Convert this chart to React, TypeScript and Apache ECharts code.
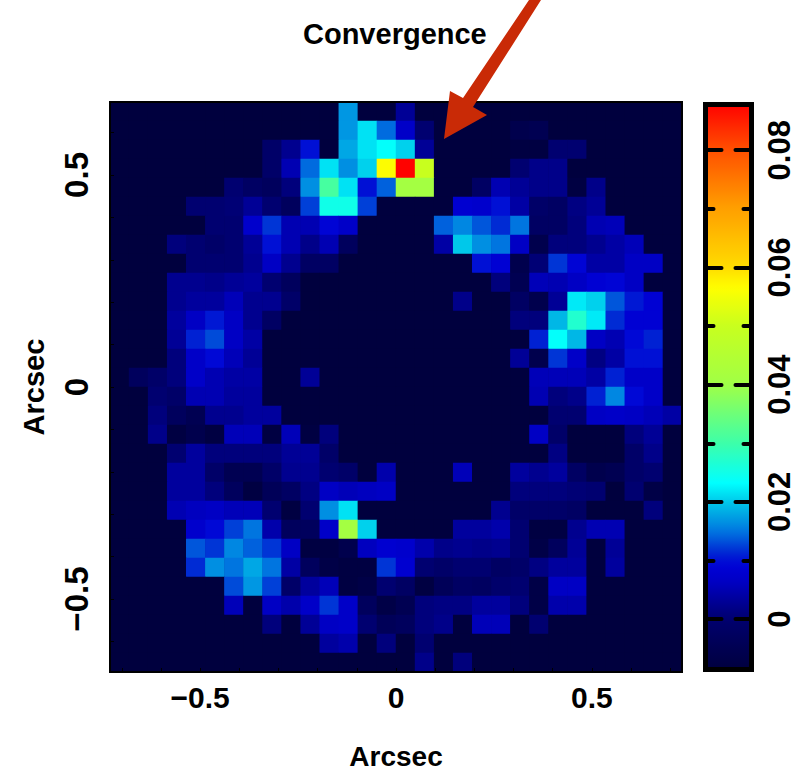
import React, { useEffect, useRef } from "react";
import * as echarts from "echarts";

const _ = -9; // background level, in thousandths
// Convergence in thousandths, one row per map row from the top; 30 columns.
const row00 = [_,_,_,_,_,_,_,_,_,_,_,_,17,_,_,3,_,_,_,_,_,_,_,_,_,_,_,_,_,_];
const row01 = [_,_,_,_,_,_,_,_,_,_,_,_,17,21.5,14.5,7,0,_,_,_,_,-6,-5,_,_,_,_,_,_,_];
const row02 = [_,_,_,_,_,_,_,_,-1,2.5,10,_,18,21.5,23.5,20.5,3,_,_,_,_,-8,-8,0,0,_,_,_,_,_];
const row03 = [_,_,_,_,_,_,_,_,-1,5,14.5,21.5,16.5,20.5,56.5,88,50,_,_,_,_,0,2,2,_,_,_,_,_,_];
const row04 = [_,_,_,_,_,_,0,-2,-3,1,16.5,31,21.5,10,14,41,41,_,_,-2,5,3,2,2,-8,2,_,_,_,_];
const row05 = [_,_,_,_,0,0,0.5,3,0,-3,12.5,25,25,12.5,_,_,_,_,8,7.5,10,4,-1,-2,1.5,3,_,_,_,_];
const row06 = [_,_,_,_,_,0,0,7.5,12,5,5,9,7,_,_,_,_,14,16,13.5,11.5,15,-2,-2,1,5,5.5,_,_,_];
const row07 = [_,_,_,1,0,-1,0,3,10,5,2,5,-3,_,_,_,_,4,20,16.5,15,6.5,-6,1,1,2.5,4,5.5,_,_];
const row08 = [_,_,_,_,0,0,0,2.5,6.5,2.5,-2,-2,_,_,_,_,_,_,_,10,8.5,-6,0.5,12,9,4,4,6.5,6.5,_];
const row09 = [_,_,_,2.5,2.5,2,3,3.5,0,-3,_,_,_,_,_,_,_,_,_,_,1,-5,5.5,5,6.5,8.5,9,6.5,_,_];
const row10 = [_,_,_,2.5,3.5,3.5,5.5,2.5,2.5,-1,_,_,_,_,_,_,_,_,2,_,_,-2,-6,3,22,20.5,13.5,10.5,8.5,_];
const row11 = [_,_,_,3.5,6.5,10.5,6.5,2.5,-2,_,_,_,_,_,_,_,_,_,_,_,_,1,1,19,27,22,11.5,8.5,8.5,_];
const row12 = [_,_,_,3,11,13,6.5,4,_,_,_,_,_,_,_,_,_,_,_,_,_,_,11,23.5,19,6.5,5,9.5,11,_];
const row13 = [_,_,_,1,7,9.5,5.5,3,_,_,_,_,_,_,_,_,_,_,_,_,_,3,-6,12,7,1.5,4,10,10,_];
const row14 = [_,-3,-1,1,7,5,4,4,_,_,3,_,_,_,_,_,_,_,_,_,_,_,5.5,5.5,5.5,4,11,7,7,_];
const row15 = [_,_,0,-1,5,5,3.5,3.5,_,_,_,_,_,_,_,_,_,_,_,_,_,_,5,1,2,11,16,9.5,7,_];
const row16 = [_,_,1,-3,-5,2.5,2.5,3.5,3.5,_,_,_,_,_,_,_,_,_,_,_,_,_,_,0,0,6.5,7,6.5,5.5,4];
const row17 = [_,_,2,-8,-6,-8,5.5,5.5,-8,5.5,-8,1,_,_,_,_,_,_,_,_,_,_,6.5,-1,_,_,_,1,3,_];
const row18 = [_,_,_,0,3.5,1,1,1,1,3,3,-1,_,_,_,_,_,_,_,_,_,_,_,1.5,_,_,_,-1,2,_];
const row19 = [_,_,_,3.5,3.5,-1,-5,-5,-1,2.5,2.5,0,-1,_,4.5,_,_,_,5.5,_,_,3.5,2.5,3.5,-2,-6,-5,-1,0,_];
const row20 = [_,_,_,3.5,3.5,1,-3,-8,-4,-2,1.5,6.5,5.5,6,6.5,_,_,_,_,_,_,1,1,1,0.5,0,_,0,-7,_];
const row21 = [_,_,_,5,6,6.5,5.5,5.5,0,-8,0,16.5,21.5,_,_,_,_,_,_,_,2.5,-1,-1,-1,-2,_,_,_,1,_];
const row22 = [_,_,_,_,7.5,9.5,12.5,15,4.5,-3,-3,7,41,20.5,_,_,_,_,3.5,3.5,4.5,0,-8,-8,2.5,5,5,_,_,_];
const row23 = [_,_,_,_,13.5,12,16,14,12,6.5,-8,-8,-6,6,8,7.5,4.5,2,2.5,2,2.5,0,-7,-3,3,_,3,_,_,_];
const row24 = [_,_,_,_,11.5,16.5,15,18,15,4,-3,-7,-8,-8,12,8,0,-1,0,0,-2,-1,1.5,3.5,3.5,_,3.5,_,_,_];
const row25 = [_,_,_,_,_,_,13,17,12.5,-1,3.5,5.5,-8,-7,0,-2,-8,-4,-2,-2.5,-0.5,0,-7,6.5,6.5,_,_,_,_,_];
const row26 = [_,_,_,_,_,_,5.5,_,6.5,4.5,7,12,7,-3,-7,-5,1,1.5,1.5,3.5,3.5,1,-7,4.5,4.5,_,_,_,_,_];
const row27 = [_,_,_,_,_,_,_,_,1,_,3,6.5,7,0,-4,-3,1,2,_,5.5,5.5,_,0,_,_,_,_,_,_,_];
const row28 = [_,_,_,_,_,_,_,_,_,_,_,3.5,4.5,_,1,_,0,_,_,_,_,_,_,_,_,_,_,_,_,_];
const row29 = [_,_,_,_,_,_,_,_,_,_,_,_,_,_,_,_,2,_,1,_,_,_,_,_,_,_,_,_,_,_];
const mapRows = [row00,row01,row02,row03,row04,row05,row06,row07,row08,row09,row10,row11,row12,row13,row14,row15,row16,row17,row18,row19,row20,row21,row22,row23,row24,row25,row26,row27,row28,row29];

const xTickValues = [-0.7,-0.6,-0.5,-0.4,-0.3,-0.2,-0.1,0,0.1,0.2,0.3,0.4,0.5,0.6,0.7];
const yTickValues = [-0.6,-0.5,-0.4,-0.3,-0.2,-0.1,0,0.1,0.2,0.3,0.4,0.5,0.6];
const axisLabelValues = [-0.5,0,0.5];
const barMajorTicks = [0,0.02,0.04,0.06,0.08];
const barMinorTicks = [0.01,0.03,0.05,0.07];

const COLOR_MIN = -0.0086;
const COLOR_MAX = 0.0878;
const colorStops: [number, number, number, number][] = [
  [-9,0,0,60],[0,0,0,110],[6.3,0,0,195],[9,0,0,215],[10.9,0,30,210],[15.1,0,120,225],
  [19.4,0,190,230],[23.2,0,255,255],[30,60,255,170],[40,160,255,70],[50,200,255,30],
  [56.5,255,255,0],[60,255,220,0],[70,255,160,0],[80,255,80,0],[88,255,0,0],
];
function rampColor(v: number) {
  for (let i = 1; i < colorStops.length; i++) {
    const a = colorStops[i - 1], b = colorStops[i];
    if (v <= b[0]) {
      const t = Math.max(0, (v - a[0]) / (b[0] - a[0]));
      const c = [1, 2, 3].map((k) => Math.round(a[k] + (b[k] - a[k]) * t));
      return `rgb(${c[0]},${c[1]},${c[2]})`;
    }
  }
  return "rgb(255,0,0)";
}
const rampSteps = Array.from({ length: 98 }, (_x, i) =>
  rampColor(COLOR_MIN * 1000 + ((COLOR_MAX - COLOR_MIN) * 1000 * i) / 97));

const FONT = "Liberation Sans";
const tickLabel = (v: number) =>
  v === 0 ? "0" : v < 0 ? "\u2212" + Math.abs(v).toFixed(1) : v.toFixed(1);

export default function App() {
  const ref = useRef<HTMLDivElement>(null);
  useEffect(() => {
    const chart = echarts.init(ref.current!, undefined, { renderer: "svg" });
    const cells: [number, number, number][] = [];
    mapRows.forEach((row, r) =>
      row.forEach((v, c) => cells.push([c, 29 - r, v / 1000])));
    const idx = Array.from({ length: 30 }, (_x, i) => String(i));
    const frame = (w: number) => ({ show: true, onZero: false, lineStyle: { color: "#000", width: w, cap: "square" as const } });
    const barAxis = (position: string, values: number[], len: number, labels: boolean, line: boolean) => ({
      type: "value", gridIndex: 1, position, min: COLOR_MIN, max: COLOR_MAX, z: 10,
      splitLine: { show: false },
      axisLine: line ? frame(5) : { show: false, onZero: false },
      axisTick: { show: true, inside: true, length: len, customValues: values,
        lineStyle: { color: "#000", width: 4, cap: "round" as const } },
      axisLabel: labels
        ? { show: true, customValues: barMajorTicks, rotate: 90, margin: 15.5, color: "#000",
            fontFamily: FONT, fontWeight: "bold", fontSize: 31, lineHeight: 24,
            formatter: (v: number) => (v === 0 ? "0" : v.toFixed(2)) }
        : { show: false },
    });
    chart.setOption({
      animation: false,
      backgroundColor: "#fff",
      title: {
        text: "Convergence", left: 298, top: 14,
        textStyle: { fontFamily: FONT, fontWeight: "bold", fontSize: 29, color: "#000" },
      },
      grid: [
        { left: 110, top: 102, width: 572, height: 570, outerBoundsMode: "none", show: true, backgroundColor: "#00003c", borderWidth: 0 },
        { left: 705.5, top: 104.5, width: 46, height: 565, outerBoundsMode: "none" },
      ],
      xAxis: [
        { type: "category", gridIndex: 0, data: idx, position: "top", z: 10,
          axisLine: frame(2), axisTick: { show: false }, axisLabel: { show: false }, splitLine: { show: false } },
        { type: "value", gridIndex: 0, position: "bottom", min: -0.73, max: 0.73, z: 10,
          name: "Arcsec", nameLocation: "middle", nameGap: 70,
          nameTextStyle: { fontFamily: FONT, fontWeight: "bold", fontSize: 28, color: "#000" },
          axisLine: frame(2), splitLine: { show: false },
          axisTick: { show: true, inside: true, length: 4, customValues: xTickValues, lineStyle: { color: "#000", width: 1 } },
          axisLabel: { show: true, customValues: axisLabelValues, margin: 10, formatter: tickLabel, color: "#000",
            fontFamily: FONT, fontWeight: "bold", fontSize: 30 } },
        { type: "value", gridIndex: 1, position: "top", min: 0, max: 1, z: 10, axisLine: frame(5), axisTick: { show: false }, axisLabel: { show: false }, splitLine: { show: false } },
        { type: "value", gridIndex: 1, position: "bottom", min: 0, max: 1, z: 10, axisLine: frame(5), axisTick: { show: false }, axisLabel: { show: false }, splitLine: { show: false } },
      ],
      yAxis: [
        { type: "category", gridIndex: 0, data: idx, position: "right", z: 10,
          axisLine: frame(2), axisTick: { show: false }, axisLabel: { show: false }, splitLine: { show: false } },
        { type: "value", gridIndex: 0, position: "left", min: -0.672, max: 0.672, z: 10,
          name: "Arcsec", nameLocation: "middle", nameGap: 62, nameRotate: 90,
          nameTextStyle: { fontFamily: FONT, fontWeight: "bold", fontSize: 29, color: "#000" },
          axisLine: frame(2), splitLine: { show: false },
          axisTick: { show: true, inside: true, length: 4, customValues: yTickValues, lineStyle: { color: "#000", width: 1 } },
          axisLabel: { show: true, customValues: axisLabelValues, rotate: 90, margin: 17, formatter: tickLabel, color: "#000",
            fontFamily: FONT, fontWeight: "bold", fontSize: 33 } },
        barAxis("left", barMajorTicks, 16, false, true),
        barAxis("right", barMajorTicks, 16, true, true),
        barAxis("left", barMinorTicks, 8, false, false),
        barAxis("right", barMinorTicks, 8, false, false),
      ],
      visualMap: {
        type: "continuous", seriesIndex: 0, min: COLOR_MIN, max: COLOR_MAX,
        left: 705.5, top: 104.5, itemWidth: 46, itemHeight: 565, padding: 0,
        calculable: false, hoverLink: false, showLabel: false, text: ["", ""], z: 1,
        inRange: { color: rampSteps },
      },
      series: [
        { type: "heatmap", xAxisIndex: 0, yAxisIndex: 0, data: cells, progressive: 0, silent: true,
          itemStyle: { borderWidth: 0 }, emphasis: { disabled: true } },
      ],
      graphic: [
        { type: "polygon", z: 100, silent: true,
          shape: { points: [[444,139],[487,115],[473,107],[541,0],[529,0],[463,98],[450,91]] },
          style: { fill: "#c92a06" } },
      ],
    });
    return () => chart.dispose();
  }, []);
  return <div ref={ref} style={{ position: "absolute", left: 0, top: 0, width: 795, height: 772 }} />;
}
